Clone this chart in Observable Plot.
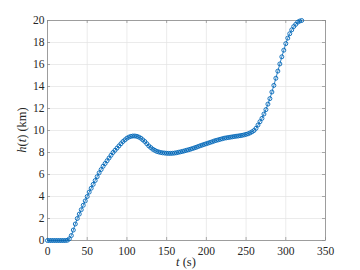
<!DOCTYPE html>
<html><head><meta charset="utf-8">
<script src="https://cdn.jsdelivr.net/npm/d3@7"></script>
<script src="https://cdn.jsdelivr.net/npm/@observablehq/plot@0.6"></script>
<style>body{margin:0;background:#fff}#chart{width:360px;height:270px}</style>
</head><body><div id="chart"></div>
<script>
const tValues = [0,2.5,5,7.5,10,12.5,15,17.5,20,22.5,25,27.5,30,32.5,35,37.5,40,42.5,45,47.5,50,52.5,55,57.5,60,62.5,65,67.5,70,72.5,75,77.5,80,82.5,85,87.5,90,92.5,95,97.5,100,102.5,105,107.5,110,112.5,115,117.5,120,122.5,125,127.5,130,132.5,135,137.5,140,142.5,145,147.5,150,152.5,155,157.5,160,162.5,165,167.5,170,172.5,175,177.5,180,182.5,185,187.5,190,192.5,195,197.5,200,202.5,205,207.5,210,212.5,215,217.5,220,222.5,225,227.5,230,232.5,235,237.5,240,242.5,245,247.5,250,252.5,255,257.5,260,262.5,265,267.5,270,272.5,275,277.5,280,282.5,285,287.5,290,292.5,295,297.5,300,302.5,305,307.5,310,312.5,315,317.5,320];
const hValues = [0,0,0,0,0,0,0,0,0,0,0.02,0.15,0.45,0.95,1.5,2.0,2.4,2.8,3.2,3.6,4.0,4.4,4.75,5.1,5.45,5.8,6.15,6.45,6.75,7.0,7.25,7.5,7.75,8.0,8.2,8.4,8.6,8.8,9.0,9.15,9.3,9.4,9.47,9.5,9.5,9.47,9.4,9.3,9.15,9.0,8.8,8.6,8.45,8.3,8.2,8.1,8.05,8.0,7.97,7.95,7.93,7.92,7.92,7.93,7.95,7.98,8.02,8.06,8.1,8.15,8.2,8.25,8.3,8.36,8.42,8.48,8.55,8.62,8.68,8.74,8.8,8.86,8.92,8.98,9.05,9.1,9.15,9.2,9.25,9.3,9.33,9.36,9.39,9.42,9.45,9.48,9.5,9.53,9.56,9.6,9.65,9.7,9.78,9.88,10.0,10.2,10.5,10.8,11.1,11.5,11.9,12.4,12.9,13.5,14.1,14.75,15.4,16.05,16.7,17.3,17.9,18.4,18.8,19.15,19.45,19.65,19.85,19.95,20.0];
const xTicks = [0,50,100,150,200,250,300,350];
const yTicks = [0,2,4,6,8,10,12,14,16,18,20];

const data = tValues.map((t,i)=>({t, h:hValues[i]}));
const W=360,H=270,mL=47,mR=35,mT=20,mB=30;
const pw=W-mL-mR, ph=H-mT-mB;
const blue="#0066B8", frameC="#8a8a8a", gridC="#e3e3e3", txtC="#262626";
const serif = "Liberation Serif";

const plot = Plot.plot({
  width:W, height:H, marginLeft:mL, marginRight:mR, marginTop:mT, marginBottom:mB,
  style:{fontFamily:serif, fontSize:"11px", color:txtC, background:"#fff"},
  x:{domain:[0,350], ticks:xTicks},
  y:{domain:[0,20], ticks:yTicks},
  marks:[
    Plot.gridX(xTicks,{stroke:gridC, strokeOpacity:1, strokeWidth:0.7}),
    Plot.gridY(yTicks,{stroke:gridC, strokeOpacity:1, strokeWidth:0.7}),
    Plot.tickX(xTicks,{x:d=>d, stroke:frameC, strokeWidth:0.7, insetTop:ph-3}),
    Plot.tickX(xTicks,{x:d=>d, stroke:frameC, strokeWidth:0.7, insetBottom:ph-3}),
    Plot.tickY(yTicks,{y:d=>d, stroke:frameC, strokeWidth:0.7, insetRight:pw-3}),
    Plot.tickY(yTicks,{y:d=>d, stroke:frameC, strokeWidth:0.7, insetLeft:pw-3}),
    Plot.axisX(xTicks,{tickSize:0, tickPadding:6, label:null, fill:txtC, fontSize:11.5, fontFamily:serif}),
    Plot.axisY(yTicks,{tickSize:0, tickPadding:3, label:null, fill:txtC, fontSize:11.5, fontFamily:serif}),
    Plot.frame({stroke:frameC, strokeWidth:0.8}),
    Plot.line(data,{x:"t", y:"h", stroke:blue, strokeWidth:0.8}),
    Plot.dot(data,{x:"t", y:"h", r:2, stroke:blue, strokeWidth:0.9, fill:"none"})
  ]
});
document.getElementById("chart").appendChild(plot);
d3.select(plot).selectAll("text").attr("font-family", serif).style("font-family", serif);

const svg = d3.select(plot);
const xl = svg.append("text").attr("x", mL+pw/2).attr("y", H-4).attr("text-anchor","middle")
  .attr("font-size",12.5).attr("fill",txtC).style("font-family", serif);
xl.append("tspan").attr("font-style","italic").text("t");
xl.append("tspan").text(" (s)");
const yl = svg.append("text").attr("transform",`translate(${26},${mT+ph/2}) rotate(-90)`).attr("text-anchor","middle")
  .attr("font-size",12.5).attr("fill",txtC).style("font-family", serif);
yl.append("tspan").attr("font-style","italic").text("h");
yl.append("tspan").text("(");
yl.append("tspan").attr("font-style","italic").text("t");
yl.append("tspan").text(") (km)");
</script></body></html>
